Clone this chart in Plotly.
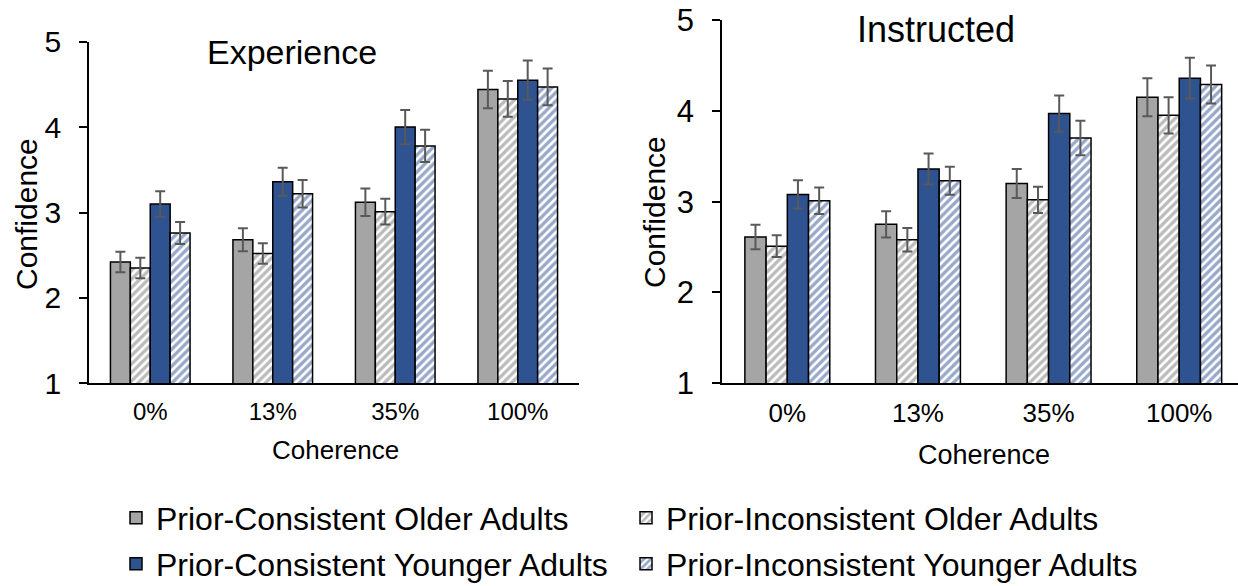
import plotly.graph_objects as go

# Coherence levels shared by both panels
coherence = ["0%", "13%", "35%", "100%"]

series_names = [
    "Prior-Consistent Older Adults",
    "Prior-Inconsistent Older Adults",
    "Prior-Consistent Younger Adults",
    "Prior-Inconsistent Younger Adults",
]

# Experience panel: mean confidence and error
exp_cons_old = [2.42, 2.68, 3.12, 4.44]
exp_incons_old = [2.35, 2.52, 3.01, 4.33]
exp_cons_young = [3.10, 3.36, 4.00, 4.55]
exp_incons_young = [2.76, 3.22, 3.78, 4.47]

exp_err_cons_old = [0.12, 0.135, 0.16, 0.22]
exp_err_incons_old = [0.12, 0.12, 0.15, 0.21]
exp_err_cons_young = [0.15, 0.165, 0.20, 0.23]
exp_err_incons_young = [0.13, 0.16, 0.19, 0.215]

# Instructed panel: mean confidence and error
ins_cons_old = [2.61, 2.75, 3.20, 4.15]
ins_incons_old = [2.51, 2.58, 3.02, 3.95]
ins_cons_young = [3.08, 3.36, 3.97, 4.36]
ins_incons_young = [3.01, 3.23, 3.70, 4.29]

ins_err_cons_old = [0.135, 0.145, 0.16, 0.21]
ins_err_incons_old = [0.12, 0.13, 0.145, 0.20]
ins_err_cons_young = [0.155, 0.17, 0.20, 0.225]
ins_err_incons_young = [0.145, 0.155, 0.19, 0.21]

y_ticks = [1, 2, 3, 4, 5]

GRAY = "#A5A5A5"
BLUE = "#2F5291"
ERR = "#595959"
FONT = "Liberation Sans, Arial, sans-serif"

W, H = 1238, 586


def px_x(x):
    return x / W


def px_y(y):
    return (H - y) / H


styles = [
    dict(color=GRAY, pattern=None),
    dict(color="white", pattern=dict(shape="/", fgcolor="#777777", bgcolor="white", size=6, solidity=0.55)),
    dict(color=BLUE, pattern=None),
    dict(color="white", pattern=dict(shape="/", fgcolor=BLUE, bgcolor="white", size=6, solidity=0.55)),
]

# each series gets its own legend box so the four entries sit in a 2x2 grid
legend_ids = ["legend", "legend2", "legend3", "legend4"]

panels = [
    ("x", "y", [exp_cons_old, exp_incons_old, exp_cons_young, exp_incons_young],
     [exp_err_cons_old, exp_err_incons_old, exp_err_cons_young, exp_err_incons_young], True),
    ("x2", "y2", [ins_cons_old, ins_incons_old, ins_cons_young, ins_incons_young],
     [ins_err_cons_old, ins_err_incons_old, ins_err_cons_young, ins_err_incons_young], False),
]

fig = go.Figure()
for xa, ya, vals, errs, show in panels:
    for name, v, e, st, lg in zip(series_names, vals, errs, styles, legend_ids):
        marker = dict(color=st["color"], line=dict(color="black", width=1.5))
        if st["pattern"]:
            marker["pattern"] = st["pattern"]
        fig.add_trace(go.Bar(
            x=coherence, y=v, name=name, xaxis=xa, yaxis=ya,
            marker=marker, showlegend=show, legend=lg,
            error_y=dict(type="data", array=e, visible=True, color=ERR, thickness=2, width=5),
        ))

axis_common = dict(showgrid=False, zeroline=False, showline=True, linecolor="black",
                   linewidth=1.5, automargin=False)

legend_common = dict(orientation="h", xanchor="left", yanchor="middle",
                     font=dict(size=32), bgcolor="rgba(0,0,0,0)", borderwidth=0)

fig.update_layout(
    width=W, height=H,
    margin=dict(l=0, r=0, t=0, b=0, autoexpand=False),
    paper_bgcolor="white", plot_bgcolor="white",
    barmode="group", bargap=0.35, bargroupgap=0,
    font=dict(family=FONT, color="black"),
    xaxis=dict(domain=[px_x(89), px_x(579)], range=[-0.5, 3.5], anchor="y",
               ticks="", tickfont=dict(size=24), ticklabelstandoff=6, **axis_common),
    yaxis=dict(domain=[px_y(383.3), px_y(41.7)], range=[1, 5], anchor="x",
               tickvals=y_ticks, ticks="outside", ticklen=8, tickwidth=1.5, tickcolor="black",
               tickfont=dict(size=30), ticklabelstandoff=12, **axis_common),
    xaxis2=dict(domain=[px_x(722), 1.0], range=[-0.5, 3.45], anchor="y2",
                ticks="", tickfont=dict(size=26), ticklabelstandoff=6, **axis_common),
    yaxis2=dict(domain=[px_y(383.3), px_y(20)], range=[1, 5], anchor="x2",
                tickvals=y_ticks, ticks="outside", ticklen=8, tickwidth=1.5, tickcolor="black",
                tickfont=dict(size=31), ticklabelstandoff=12, **axis_common),
    legend=dict(x=px_x(116), y=px_y(518), **legend_common),
    legend2=dict(x=px_x(626), y=px_y(518), **legend_common),
    legend3=dict(x=px_x(116), y=px_y(564), **legend_common),
    legend4=dict(x=px_x(626), y=px_y(564), **legend_common),
)

annotations = [
    dict(text="Experience", x=px_x(292), y=px_y(52), font=dict(size=34)),
    dict(text="Instructed", x=px_x(936), y=px_y(30), font=dict(size=36)),
    dict(text="Coherence", x=px_x(335), y=px_y(450), font=dict(size=26)),
    dict(text="Coherence", x=px_x(984), y=px_y(455), font=dict(size=27)),
    dict(text="Confidence", x=px_x(26), y=px_y(214), font=dict(size=30), textangle=-90),
    dict(text="Confidence", x=px_x(654), y=px_y(212), font=dict(size=30), textangle=-90),
]
for a in annotations:
    fig.add_annotation(xref="paper", yref="paper", showarrow=False,
                       xanchor="center", yanchor="middle", **a)

fig.write_html("out.html")
